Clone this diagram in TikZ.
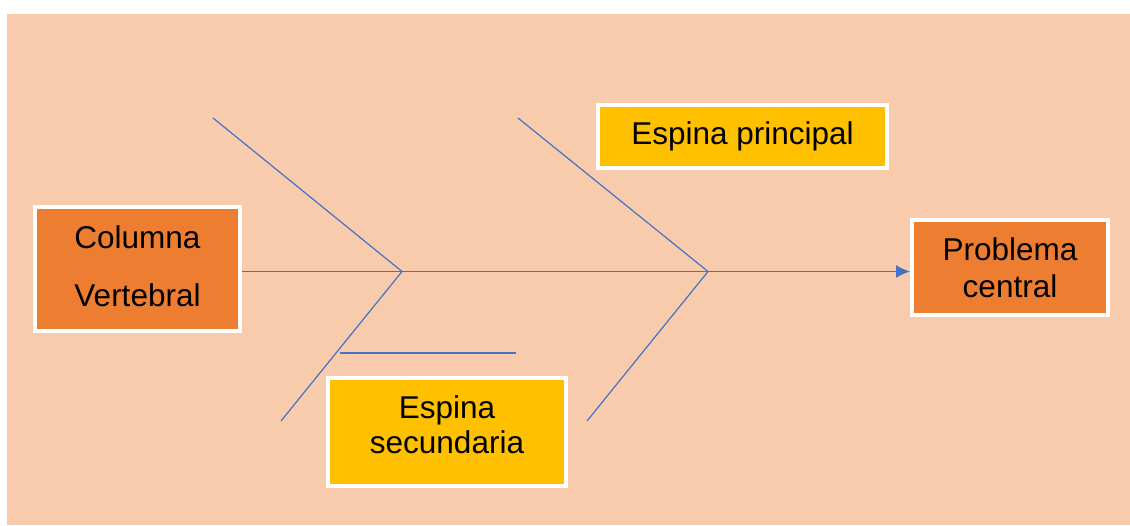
\documentclass[tikz,border=0pt]{standalone}
\usepackage{fontspec}
\setmainfont{Liberation Sans}
\usetikzlibrary{arrows.meta}
\definecolor{peach}{HTML}{F8CBAD}
\definecolor{orng}{HTML}{ED7D31}
\definecolor{gold}{HTML}{FFC000}
\definecolor{bone}{HTML}{4472C4}
\tikzset{
  box/.style={draw=white, line width=4pt, rectangle, align=center, text=black,
    font=\fontsize{31.5}{36}\selectfont, inner sep=0pt},
  obox/.style={box, fill=orng},
  ybox/.style={box, fill=gold},
  boneline/.style={draw=bone, line width=1.2pt},
}
\begin{document}
\begin{tikzpicture}[x=1pt,y=-1pt]
\useasboundingbox (0,0) rectangle (1130,525);
\fill[white] (0,0) rectangle (1130,525);
\fill[peach] (7,14) rectangle (1130,525);
\node[obox, minimum width=205pt, minimum height=124pt] (col) at (137.5,269) {Columna\\[22.4pt]Vertebral\rule[-6pt]{0pt}{6pt}};
\node[obox, minimum width=196pt, minimum height=95pt] (prob) at (1010,267.5) {Problema\\[0.5pt]central};
\node[ybox, minimum width=289pt, minimum height=63pt] (ep) at (742.5,136.5) {Espina principal};
\node[ybox, minimum width=238pt, minimum height=108pt] (es) at (447,432) {Espina\\[-1pt]secundaria\rule[-14pt]{0pt}{14pt}};
\coordinate (j1) at (402,271.5);
\coordinate (j2) at (708,271.5);
\coordinate (a1) at (213,118);
\coordinate (a2) at (518,118);
\coordinate (b1) at (281,421);
\coordinate (b2) at (587,421);
\coordinate (s1) at (340,353);
\coordinate (s2) at (516,353);
\draw[boneline] (col.east |- j1) -- (j1) -- (j2);
\draw[boneline, -{Latex[length=14pt,width=13pt]}] (j2) -- (prob.west |- j2);
\draw[boneline] (a1) -- (j1) -- (b1);
\draw[boneline] (a2) -- (j2) -- (b2);
\draw[boneline] (s1) -- (s2);
\end{tikzpicture}
\end{document}
